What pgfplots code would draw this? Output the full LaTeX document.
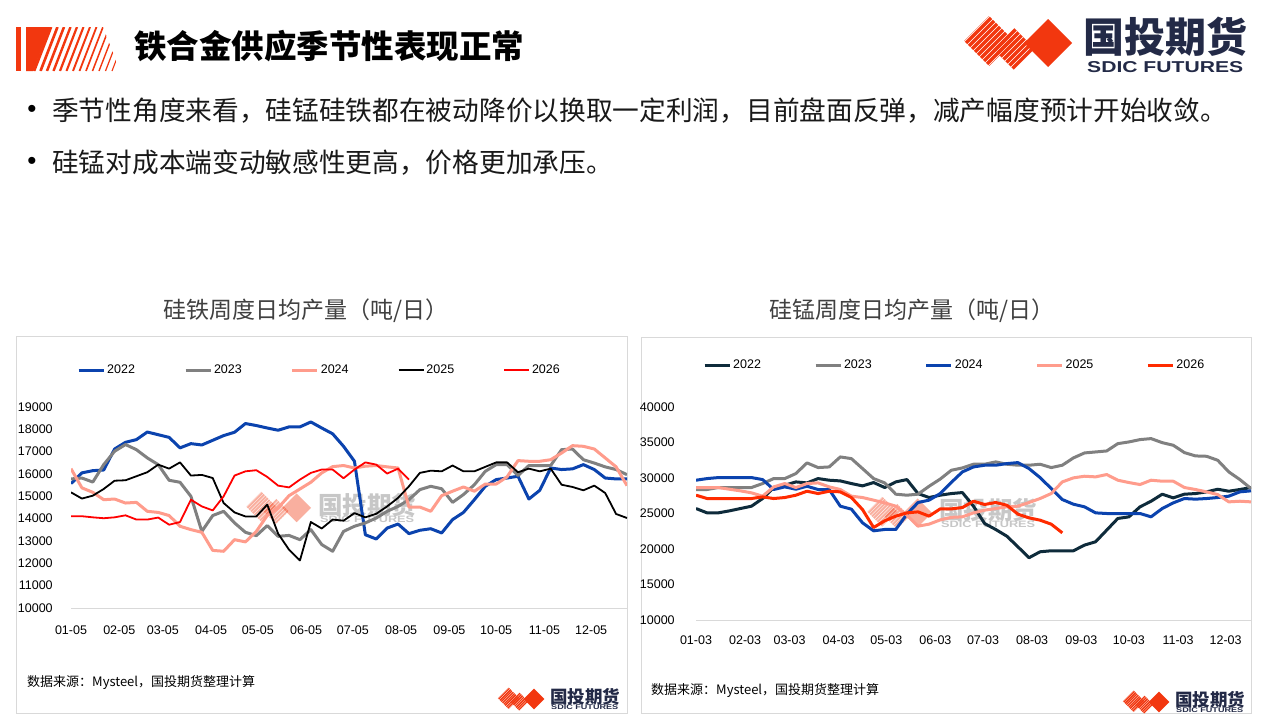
\documentclass[border=0pt]{standalone}
\usepackage{fontspec}
\usepackage{graphicx}
\usepackage{pgfplots}
\usepackage{pgfplotstable}
\pgfplotsset{compat=1.18}
\setmainfont{Noto Sans CJK SC}
\newfontfamily\arial{Liberation Sans}
\definecolor{cblue}{HTML}{0B43AE}
\definecolor{cgray}{HTML}{808080}
\definecolor{csalmon}{HTML}{FF9C8C}
\definecolor{cnavy}{HTML}{0E2B3B}
\definecolor{cred}{HTML}{FF0000}
\definecolor{cred2}{HTML}{FF2B00}
\definecolor{logored}{HTML}{F2370F}
\definecolor{logonavy}{HTML}{232A47}
\definecolor{boxgray}{HTML}{D9D9D9}
\definecolor{titlegray}{HTML}{404040}

\newcommand\sdicgfx[4]{%
\begin{scope}[shift={(#1,#2)},scale=#3,opacity=#4]
  \begin{scope}
    \clip (27,-1)--(52,-26)--(27,-51)--(2,-26)--cycle;
    \foreach \t in {-90,-84,...,60}{\draw[logored,line width=#3*3.2pt] (\t,-80)--({\t+80},0);}
  \end{scope}
  \begin{scope}
    \clip (52,-13)--(73,-34)--(52,-55)--(31,-34)--cycle;
    \foreach \t in {-90,-84,...,90}{\draw[logored,line width=#3*3.2pt] (\t,-80)--({\t+80},0);}
  \end{scope}
  \fill[logored] (86,-4)--(110,-28)--(86,-52)--(62,-28)--cycle;
\end{scope}}

\pgfplotstableread{
w a b c d e
0 15570 15780 16240 15180 14110
1 16050 15820 15380 14900 14110
2 16150 15640 15180 15030 14060
3 16180 16420 14850 15330 14020
4 17120 17020 14880 15700 14060
5 17420 17320 14700 15720 14150
6 17540 17090 14730 15900 13960
7 17880 16720 14330 16080 13960
8 17760 16420 14280 16420 14050
9 17640 15720 14140 16240 13730
10 17170 15630 13660 16520 13850
11 17360 15000 13510 15930 14850
12 17300 13430 13390 15960 14550
13 17510 14140 12580 15820 14370
14 17720 14330 12540 14700 15000
15 17870 13810 13060 14280 15930
16 18260 13390 12960 14100 16120
17 18170 13240 13430 14100 16170
18 18060 13690 14140 14630 15870
19 17960 13210 14480 13330 15480
20 18110 13250 15030 12610 15400
21 18110 13060 15330 12130 15750
22 18330 13510 15630 13850 16050
23 18060 12840 16050 13560 16200
24 17800 12540 16330 13960 16200
25 17240 13430 16380 13910 15810
26 16570 13660 16270 14250 16200
27 13280 13810 16350 14060 16520
28 13090 14030 16380 14220 16420
29 13580 14330 16320 14550 16020
30 13760 14550 16270 14930 16240
31 13330 14850 14520 15450 15750
32 13480 15300 14520 16050 nan
33 13550 15450 14330 16150 nan
34 13360 15340 15030 16120 nan
35 13960 14730 15230 16380 nan
36 14280 15080 15420 16120 nan
37 14850 15520 15230 16120 nan
38 15450 16120 15550 16320 nan
39 15750 16420 15550 16520 nan
40 15820 16420 15870 16520 nan
41 15900 15930 16600 16080 nan
42 14880 16380 16570 16240 nan
43 15270 16380 16570 16120 nan
44 16270 16380 16640 16240 nan
45 16200 17090 16940 15520 nan
46 16230 17120 17270 15420 nan
47 16420 16640 17240 15270 nan
48 16200 16490 17120 15480 nan
49 15820 16320 16720 15150 nan
50 15780 16200 16320 14210 nan
51 15780 15970 15480 14030 nan
}\tabL

\pgfplotstableread{
w a b c d e
0 25700 28380 29690 28660 27580
1 25090 28380 29920 28660 27110
2 25090 28660 30060 28660 27110
3 25370 28660 30060 28420 27110
4 25700 28660 30060 28190 27110
5 26030 28660 30060 27910 27110
6 27110 29220 29780 27440 27340
7 28660 29920 28380 28750 27110
8 28980 29920 28750 29220 27250
9 29450 30630 28420 28660 27580
10 29310 32130 28840 29220 28140
11 29920 31470 28380 29310 27810
12 29690 31560 28380 28750 28140
13 29590 32970 26030 28380 28050
14 29220 32730 25610 27440 27250
15 28890 31330 23690 27250 25560
16 29360 29920 22560 26880 23030
17 28660 29310 22750 26500 23970
18 29450 27720 22750 26030 24630
19 29780 27580 24910 24770 25090
20 27810 27720 26550 23220 25230
21 27250 28840 26880 23500 24630
22 27580 29850 27810 24100 25650
23 27810 31090 29380 24460 25650
24 27950 31420 30860 24530 25840
25 26030 31940 31560 25090 26730
26 23590 31940 31800 25470 26270
27 22750 32270 31800 25700 26550
28 21810 31940 32030 25940 26170
29 20310 31800 32170 26030 24910
30 18770 31800 31330 26550 24390
31 19610 31940 30060 27110 24060
32 19750 31470 28520 27810 23500
33 19750 31800 26970 29450 22280
34 19750 32830 26310 30020 nan
35 20550 33530 25940 30250 nan
36 21020 33670 25090 30160 nan
37 22660 33810 25000 30490 nan
38 24300 34840 25000 29690 nan
39 24530 35080 25000 29360 nan
40 25940 35410 25000 29080 nan
41 26730 35550 24530 29690 nan
42 27720 34980 25700 29550 nan
43 27200 34610 26500 29550 nan
44 27720 33580 27110 28660 nan
45 27810 33110 27020 28380 nan
46 28050 33060 27110 28050 nan
47 28420 32500 27250 27670 nan
48 28140 30860 27440 26640 nan
49 28380 29780 28050 26730 nan
50 28660 28520 28190 26640 nan
}\tabR

\pgfplotsset{
  chartbase/.style={
    scale only axis,
    axis x line=bottom, axis y line=left,
    x axis line style={-,draw=boxgray,line width=1pt},
    y axis line style={draw=none},
    major tick style={draw=none},
    /pgf/number format/assume math mode=true,
    /pgf/number format/1000 sep={},
    scaled y ticks=false,
    ticklabel style={font=\arial\fontsize{12.5}{14}\selectfont, text=black},
    xticklabel style={anchor=north,inner sep=0pt},
    yticklabel style={anchor=east,inner sep=0pt},
    legend columns=5,
    legend image code/.code={\draw[##1] (0pt,0pt)--(25pt,0pt);},
    no markers,
    every axis plot/.append style={line join=round},
  }
}

\begin{document}
\begin{tikzpicture}[x=1pt,y=1pt]
\fill[white] (0,0) rectangle (1280,-720);
\path[use as bounding box] (0,0) rectangle (1280,-720);

% ---- header ----
\fill[logored] (16,-27) rectangle (21,-71);
\fill[logored] (26,-27)--(50,-27)--(33,-71)--(26,-71)--cycle;
\begin{scope}
  \clip (26,-27)--(103,-27)--(120,-71)--(26,-71)--cycle;
  \foreach \t in {34,40.5,...,114}{%
    \pgfmathsetmacro\lw{max(0.9,2.8-0.022*(\t-34))}%
    \draw[logored,line width=\lw pt] (\t,-71)--({\t+17},-27);}
\end{scope}
\node[anchor=west,inner sep=0pt,font=\bfseries\fontsize{32.5}{36}\selectfont] at (134,-46) {铁合金供应季节性表现正常};

\sdicgfx{962}{-15}{1}{1}
\node[anchor=west,inner sep=0pt,text=logonavy,font=\bfseries\fontsize{41}{44}\selectfont] at (1083,-37) {国投期货};
\node[anchor=west,inner sep=0pt,text=logonavy] at (1087,-67) {\resizebox{156pt}{11pt}{\arial\bfseries SDIC FUTURES}};

\node[inner sep=0pt,font=\arial\fontsize{26}{28}\selectfont] at (32,-111) {•};
\node[anchor=west,inner sep=0pt,font=\fontsize{26.7}{30}\selectfont,text=black!90] at (52,-111) {季节性角度来看，硅锰硅铁都在被动降价以换取一定利润，目前盘面反弹，减产幅度预计开始收敛。};
\node[inner sep=0pt,font=\arial\fontsize{26}{28}\selectfont] at (32,-163) {•};
\node[anchor=west,inner sep=0pt,font=\fontsize{26.7}{30}\selectfont,text=black!90] at (52,-163) {硅锰对成本端变动敏感性更高，价格更加承压。};

% ---- chart frames and titles ----
\node[inner sep=0pt,text=titlegray,font=\fontsize{23}{26}\selectfont] at (306,-311) {硅铁周度日均产量（吨/日）};
\node[inner sep=0pt,text=titlegray,font=\fontsize{23}{26}\selectfont] at (912,-311) {硅锰周度日均产量（吨/日）};
\draw[boxgray,line width=1pt] (16,-336) rectangle (627,-713);
\draw[boxgray,line width=1pt] (641,-337) rectangle (1251,-713);

% watermarks
\sdicgfx{245}{-491}{0.6}{0.4}
\node[anchor=west,inner sep=0pt,text=black!22,font=\bfseries\fontsize{24.5}{26}\selectfont] at (318,-505) {国投期货};
\node[anchor=west,inner sep=0pt,text=black!22] at (320,-519) {\resizebox{94pt}{6.5pt}{\arial\bfseries SDIC FUTURES}};
\sdicgfx{866}{-496}{0.6}{0.4}
\node[anchor=west,inner sep=0pt,text=black!22,font=\bfseries\fontsize{24.5}{26}\selectfont] at (939,-510) {国投期货};
\node[anchor=west,inner sep=0pt,text=black!22] at (941,-524) {\resizebox{94pt}{6.5pt}{\arial\bfseries SDIC FUTURES}};

% source lines and small logos
\node[anchor=west,inner sep=0pt,font=\fontsize{13}{15}\selectfont] at (27,-683) {数据来源：Mysteel，国投期货整理计算};
\node[anchor=west,inner sep=0pt,font=\fontsize{13}{15}\selectfont] at (651,-691) {数据来源：Mysteel，国投期货整理计算};
\sdicgfx{497}{-687}{0.43}{1}
\node[anchor=west,inner sep=0pt,text=logonavy,font=\bfseries\fontsize{17.5}{19}\selectfont] at (550,-697) {国投期货};
\node[anchor=west,inner sep=0pt,text=logonavy] at (551,-707.5) {\resizebox{67pt}{4.8pt}{\arial\bfseries SDIC FUTURES}};
\sdicgfx{1122}{-690}{0.43}{1}
\node[anchor=west,inner sep=0pt,text=logonavy,font=\bfseries\fontsize{17.5}{19}\selectfont] at (1175,-700) {国投期货};
\node[anchor=west,inner sep=0pt,text=logonavy] at (1176,-710.5) {\resizebox{67pt}{4.8pt}{\arial\bfseries SDIC FUTURES}};

% ---- left chart ----
\begin{axis}[chartbase,
  at={(71pt,-608pt)}, anchor=south west,
  width=556pt, height=201pt,
  xmin=0, xmax=51, ymin=10000, ymax=19000,
  ytick={10000,11000,...,19000},
  xtick={0,4.4286,8.4286,12.857,17.143,21.571,25.857,30.286,34.714,39,43.429,47.714},
  xticklabels={01-05,02-05,03-05,04-05,05-05,06-05,07-05,08-05,09-05,10-05,11-05,12-05},
  yticklabel style={xshift=-16pt},
  xticklabel style={yshift=-15.5pt},
  legend style={draw=none,fill=none,inner sep=0pt,at={(axis description cs:0.0108,1.184)},anchor=west,
    font=\arial\fontsize{12.5}{14}\selectfont,nodes={inner sep=1pt},
    /tikz/every even column/.append style={column sep=48pt},
    /tikz/every odd column/.append style={column sep=1pt}},
]
\addplot[cblue,line width=3pt] table[x=w,y=a]{\tabL}; \addlegendentry{2022}
\addplot[cgray,line width=3pt] table[x=w,y=b]{\tabL}; \addlegendentry{2023}
\addplot[csalmon,line width=3pt] table[x=w,y=c]{\tabL}; \addlegendentry{2024}
\addplot[black,line width=1.8pt] table[x=w,y=d]{\tabL}; \addlegendentry{2025}
\addplot[cred,line width=1.8pt] table[x=w,y=e]{\tabL}; \addlegendentry{2026}
\end{axis}

% ---- right chart ----
\begin{axis}[chartbase,
  at={(696pt,-620pt)}, anchor=south west,
  width=555pt, height=213pt,
  xmin=0, xmax=50, ymin=10000, ymax=40000,
  ytick={10000,15000,...,40000},
  xtick={0,4.4286,8.4286,12.857,17.143,21.571,25.857,30.286,34.714,39,43.429,47.714},
  xticklabels={01-03,02-03,03-03,04-03,05-03,06-03,07-03,08-03,09-03,10-03,11-03,12-03},
  yticklabel style={xshift=-19pt},
  xticklabel style={yshift=-13pt},
  legend style={draw=none,fill=none,inner sep=0pt,at={(axis description cs:0.0126,1.197)},anchor=west,
    font=\arial\fontsize{12.5}{14}\selectfont,nodes={inner sep=1pt},
    /tikz/every even column/.append style={column sep=52pt},
    /tikz/every odd column/.append style={column sep=1pt}},
]
\addplot[cnavy,line width=3pt] table[x=w,y=a]{\tabR}; \addlegendentry{2022}
\addplot[cgray,line width=3pt] table[x=w,y=b]{\tabR}; \addlegendentry{2023}
\addplot[cblue,line width=3pt] table[x=w,y=c]{\tabR}; \addlegendentry{2024}
\addplot[csalmon,line width=3pt] table[x=w,y=d]{\tabR}; \addlegendentry{2025}
\addplot[cred2,line width=3pt] table[x=w,y=e]{\tabR}; \addlegendentry{2026}
\end{axis}
\end{tikzpicture}
\end{document}
